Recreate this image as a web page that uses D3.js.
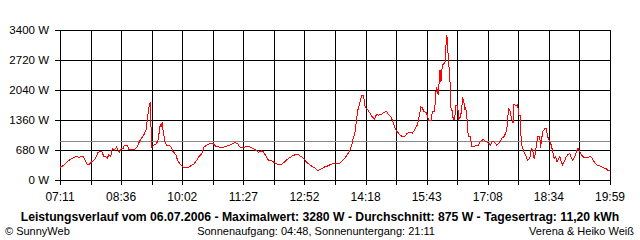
<!DOCTYPE html>
<html>
<head>
<meta charset="utf-8">
<script src="https://cdn.jsdelivr.net/npm/d3@7"></script>
<style>
  body { margin: 0; background: #fff; }
  svg text { font-family: Arial, 'Liberation Sans', sans-serif; fill: #000; }
</style>
</head>
<body>
<script>
// Leistungsverlauf 06.07.2006
var times = [
  '07:11', '07:15', '07:18', '07:21', '07:24', '07:28', '07:30', '07:34', '07:37', '07:40',
  '07:43', '07:45', '07:49', '07:52', '07:55', '07:58', '08:02', '08:04', '08:08', '08:10',
  '08:12', '08:14', '08:17', '08:19', '08:22', '08:24', '08:27', '08:30', '08:32', '08:34',
  '08:37', '08:39', '08:41', '08:45', '08:47', '08:51', '08:56', '08:59', '09:02', '09:05',
  '09:08', '09:11', '09:12', '09:14', '09:15', '09:17', '09:19', '09:22', '09:26', '09:28',
  '09:31', '09:32', '09:33', '09:34', '09:35', '09:36', '09:38', '09:40', '09:44', '09:46',
  '09:49', '09:53', '09:55', '09:58', '10:01', '10:03', '10:08', '10:12', '10:15', '10:18',
  '10:22', '10:25', '10:29', '10:32', '10:36', '10:40', '10:45', '10:48', '10:52', '10:57',
  '11:01', '11:06', '11:11', '11:15', '11:19', '11:22', '11:26', '11:30', '11:34', '11:39',
  '11:44', '11:48', '11:52', '11:55', '11:59', '12:02', '12:07', '12:12', '12:16', '12:21',
  '12:26', '12:30', '12:35', '12:40', '12:44', '12:48', '12:53', '12:57', '13:02', '13:07',
  '13:11', '13:16', '13:21', '13:25', '13:30', '13:35', '13:41', '13:44', '13:48', '13:51',
  '13:55', '13:58', '14:00', '14:03', '14:05', '14:07', '14:10', '14:12', '14:15', '14:17',
  '14:20', '14:24', '14:27', '14:30', '14:33', '14:36', '14:40', '14:43', '14:47', '14:49',
  '14:53', '14:56', '14:59', '15:02', '15:06', '15:09', '15:13', '15:16', '15:20', '15:23',
  '15:26', '15:30', '15:32', '15:35', '15:37', '15:39', '15:42', '15:44', '15:46', '15:49',
  '15:51', '15:54', '15:56', '15:57', '15:59', '16:00', '16:01', '16:02', '16:03', '16:04',
  '16:05', '16:08', '16:09', '16:10', '16:11', '16:12', '16:13', '16:15', '16:16', '16:17',
  '16:19', '16:20', '16:22', '16:24', '16:26', '16:28', '16:30', '16:32', '16:33', '16:35',
  '16:36', '16:37', '16:39', '16:40', '16:42', '16:44', '16:46', '16:49', '16:52', '16:55',
  '16:58', '17:02', '17:06', '17:10', '17:12', '17:15', '17:18', '17:21', '17:24', '17:28',
  '17:31', '17:34', '17:36', '17:37', '17:39', '17:42', '17:44', '17:45', '17:48', '17:50',
  '17:52', '17:54', '17:55', '17:57', '18:00', '18:02', '18:04', '18:07', '18:09', '18:11',
  '18:13', '18:15', '18:16', '18:17', '18:18', '18:21', '18:22', '18:24', '18:25', '18:28',
  '18:30', '18:32', '18:35', '18:37', '18:39', '18:41', '18:43', '18:45', '18:46', '18:49',
  '18:51', '18:53', '18:56', '18:58', '19:00', '19:03', '19:05', '19:07', '19:10', '19:12',
  '19:14', '19:17', '19:19', '19:23', '19:28', '19:32', '19:34', '19:38', '19:41', '19:45',
  '19:49', '19:54', '19:57', '19:59'
]

var watts = [
  290, 320, 360, 410, 450, 490, 510, 540, 510, 530,
  540, 480, 360, 360, 410, 440, 530, 630, 640, 630,
  530, 540, 490, 570, 540, 720, 680, 750, 680, 630,
  720, 700, 790, 780, 700, 700, 700, 750, 880, 950,
  1020, 1130, 1250, 1510, 1630, 1760, 750, 790, 830, 910,
  1250, 1210, 1250, 1320, 1090, 1020, 830, 790, 790, 750,
  640, 570, 450, 380, 320, 290, 280, 300, 340, 360,
  450, 530, 600, 750, 790, 820, 820, 770, 750, 740,
  750, 780, 810, 850, 830, 750, 730, 750, 770, 730,
  680, 630, 660, 640, 530, 450, 430, 380, 340, 360,
  430, 490, 540, 580, 570, 530, 450, 380, 320, 270,
  210, 250, 300, 320, 360, 380, 380, 410, 480, 550,
  640, 770, 910, 1090, 1360, 1590, 1770, 1910, 1910, 1660,
  1610, 1510, 1430, 1380, 1490, 1470, 1490, 1530, 1560, 1490,
  1430, 1320, 1170, 1090, 1020, 980, 1000, 1060, 1090, 1060,
  1130, 1250, 1400, 1660, 1640, 1550, 1530, 1470, 1340, 1340,
  1550, 1550, 2000, 2110, 1930, 2080, 2490, 2490, 2230, 2450,
  2610, 2650, 2680, 3060, 3280, 3210, 2800, 2420, 2080, 1630,
  1550, 1380, 1380, 1700, 1700, 1380, 1430, 1590, 1890, 1770,
  1590, 1660, 1510, 1130, 980, 980, 750, 750, 790, 790,
  870, 920, 870, 830, 790, 880, 850, 790, 830, 950,
  980, 1090, 1290, 1610, 1590, 1360, 1290, 1720, 1680, 1700,
  1470, 1470, 830, 720, 600, 530, 450, 490, 720, 680,
  490, 600, 790, 870, 980, 980, 720, 980, 1090, 1170,
  1170, 980, 870, 790, 640, 490, 530, 410, 450, 530,
  410, 340, 450, 530, 570, 600, 490, 450, 530, 640,
  720, 640, 570, 510, 510, 530, 490, 380, 340, 320,
  280, 250, 210, 210
]

var yTicks = [0, 680, 1360, 2040, 2720, 3400]
var xTickLabels = ['07:11', '08:36', '10:02', '11:27', '12:52', '14:18', '15:43', '17:08', '18:34', '19:59']
var average = 875

var title = 'Leistungsverlauf vom 06.07.2006 - Maximalwert: 3280 W - Durchschnitt: 875 W - Tagesertrag: 11,20 kWh'
var footLeft = '\u00a9 SunnyWeb'
var footMid = 'Sonnenaufgang: 04:48, Sonnenuntergang: 21:11'
var footRight = 'Verena & Heiko Wei\u00df'

var parseTime = d3.timeParse('%Y-%m-%d %H:%M')
function toDate (t) {
  return parseTime('2006-07-06 ' + t)
}

var data = times.map(function (t, i) {
  return { date: toDate(t), value: watts[i] }
})

var margin = {top: 30, right: 30, bottom: 60, left: 60},
  width = 640 - margin.left - margin.right,
  height = 240 - margin.top - margin.bottom

var start = toDate(xTickLabels[0])
var end = toDate(xTickLabels[xTickLabels.length - 1])

var x = d3.scaleTime()
  .domain([start, end])
  .range([0, width])

var y = d3.scaleLinear()
  .domain([0, 3400])
  .range([height, 0])

// 18 equal steps between first and last label, every second one is labelled
var gridTimes = d3.range(19).map(function (i) {
  return new Date(+start + i * (end - start) / 18)
})

var svg = d3.select('body')
  .append('svg')
  .attr('width', 640)
  .attr('height', 240)

var g = svg.append('g')
  .attr('transform', 'translate(' + margin.left + ',' + margin.top + ')')

// horizontal grid
g.selectAll('.hgrid')
    .data(yTicks)
  .enter().append('line')
    .attr('x1', -5)
    .attr('x2', width)
    .attr('y1', function (d) { return Math.round(y(d)) + 0.5 })
    .attr('y2', function (d) { return Math.round(y(d)) + 0.5 })
    .attr('stroke', '#000')

// vertical grid
g.selectAll('.vgrid')
    .data(gridTimes)
  .enter().append('line')
    .attr('x1', function (d) { return Math.round(x(d)) + 0.5 })
    .attr('x2', function (d) { return Math.round(x(d)) + 0.5 })
    .attr('y1', 0)
    .attr('y2', height + 5)
    .attr('stroke', '#000')

// average line
g.append('line')
  .attr('x1', 0)
  .attr('x2', width)
  .attr('y1', Math.round(y(average)) + 0.5)
  .attr('y2', Math.round(y(average)) + 0.5)
  .attr('stroke', '#888')

// y labels
g.selectAll('.ylab')
    .data(yTicks)
  .enter().append('text')
    .attr('x', -11)
    .attr('y', function (d) { return y(d) })
    .attr('dy', '0.35em')
    .attr('text-anchor', 'end')
    .style('font-size', '11.5px')
    .text(function (d) { return d + ' W' })

// x labels
g.selectAll('.xlab')
    .data(xTickLabels)
  .enter().append('text')
    .attr('x', function (d, i) { return x(gridTimes[i * 2]) })
    .attr('y', height + 21)
    .attr('text-anchor', 'middle')
    .style('font-size', '12px')
    .text(function (d) { return d })

var line = d3.line()
  .x(function (d) { return x(d.date) })
  .y(function (d) { return y(d.value) })

g.append('path')
  .datum(data)
  .attr('d', line)
  .attr('fill', 'none')
  .attr('stroke', '#f00')
  .attr('stroke-width', 1)
  .attr('shape-rendering', 'crispEdges')

svg.append('text')
  .attr('x', 320)
  .attr('y', 221)
  .attr('text-anchor', 'middle')
  .style('font-size', '12.2px')
  .style('font-weight', 'bold')
  .text(title)

svg.append('text')
  .attr('x', 5)
  .attr('y', 235)
  .style('font-size', '11px')
  .text(footLeft)

svg.append('text')
  .attr('x', 316)
  .attr('y', 235)
  .attr('text-anchor', 'middle')
  .style('font-size', '11px')
  .text(footMid)

svg.append('text')
  .attr('x', 634)
  .attr('y', 235)
  .attr('text-anchor', 'end')
  .style('font-size', '11px')
  .text(footRight)
</script>
</body>
</html>
